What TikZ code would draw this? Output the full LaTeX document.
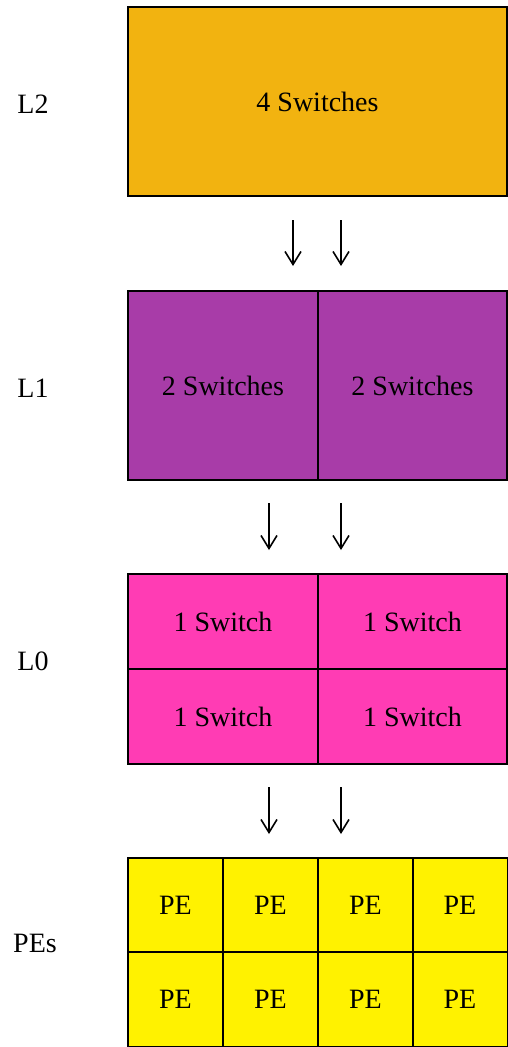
\documentclass[tikz,border=0pt]{standalone}
\usepackage{fontspec}
\setmainfont{Liberation Serif}
\usetikzlibrary{arrows.meta}
\definecolor{lvltwo}{RGB}{242,179,16}
\definecolor{lvlone}{RGB}{168,60,168}
\definecolor{lvlzero}{RGB}{255,60,180}
\definecolor{pecol}{RGB}{255,242,0}
\begin{document}
\begin{tikzpicture}[x=1pt,y=-1pt,
  cell/.style={draw=black,line width=2pt,rectangle,inner sep=0pt,font=\fontsize{28}{32}\selectfont},
  lvl/.style={font=\fontsize{28}{32}\selectfont},
  flow/.style={-{Straight Barb[length=13pt,width=16pt,line width=1.6pt]},line width=1.6pt}]
\useasboundingbox (0,0) rectangle (508,1047);
\fill[white] (0,0) rectangle (508,1047);

% level labels
\node[lvl] (tL2) at (33,104) {L2};
\node[lvl] (tL1) at (33,388) {L1};
\node[lvl] (tL0) at (33,661) {L0};
\node[lvl] (tPE) at (35,943) {PEs};

% L2
\node[cell,fill=lvltwo,minimum width=379pt,minimum height=189pt] (s2) at (317.5,101.5) {4 Switches};

% L1
\node[cell,fill=lvlone,minimum width=190pt,minimum height=189pt] (s1a) at (223,385.5) {2 Switches};
\node[cell,fill=lvlone,minimum width=189pt,minimum height=189pt] (s1b) at (412.5,385.5) {2 Switches};

% L0
\node[cell,fill=lvlzero,minimum width=190pt,minimum height=95pt] (s0a) at (223,621.5) {1 Switch};
\node[cell,fill=lvlzero,minimum width=189pt,minimum height=95pt] (s0b) at (412.5,621.5) {1 Switch};
\node[cell,fill=lvlzero,minimum width=190pt,minimum height=95pt] (s0c) at (223,716.5) {1 Switch};
\node[cell,fill=lvlzero,minimum width=189pt,minimum height=95pt] (s0d) at (412.5,716.5) {1 Switch};

% PEs
\foreach \c/\x in {1/175.5,2/270.5,3/365.5,4/460} {
  \node[cell,fill=pecol,minimum width=95pt,minimum height=94pt] (pa\c) at (\x,905) {PE};
  \node[cell,fill=pecol,minimum width=95pt,minimum height=95pt] (pb\c) at (\x,999.5) {PE};
}

% arrows between levels
\coordinate (a1s) at (293,220); \coordinate (a1e) at (293,266);
\coordinate (a2s) at (341,220); \coordinate (a2e) at (341,266);
\coordinate (b1s) at (269,503); \coordinate (b1e) at (269,550);
\coordinate (b2s) at (341,503); \coordinate (b2e) at (341,550);
\coordinate (c1s) at (269,787); \coordinate (c1e) at (269,834);
\coordinate (c2s) at (341,787); \coordinate (c2e) at (341,834);
\draw[flow] (a1s) -- (a1e);
\draw[flow] (a2s) -- (a2e);
\draw[flow] (b1s) -- (b1e);
\draw[flow] (b2s) -- (b2e);
\draw[flow] (c1s) -- (c1e);
\draw[flow] (c2s) -- (c2e);
\end{tikzpicture}
\end{document}
